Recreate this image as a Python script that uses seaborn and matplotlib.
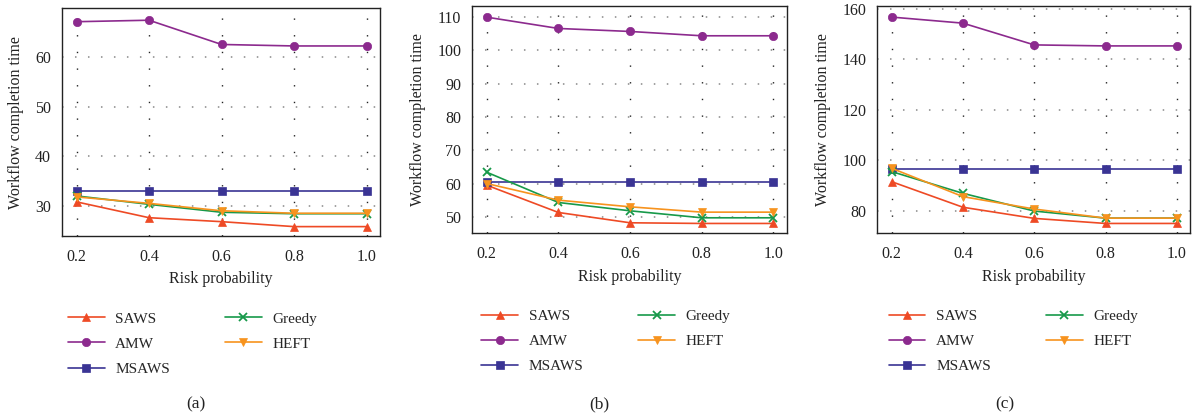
import matplotlib
matplotlib.use("Agg")
import matplotlib.pyplot as plt
import seaborn as sns

# Risk probabilities on the x axis
risk = [0.2, 0.4, 0.6, 0.8, 1.0]
algorithms = ["SAWS", "AMW", "MSAWS", "Greedy", "HEFT"]

# Workflow completion time, panel (a)
a_saws = [30.8, 27.6, 26.8, 25.8, 25.8]
a_amw = [67.2, 67.5, 62.6, 62.3, 62.3]
a_msaws = [33.0, 33.0, 33.0, 33.0, 33.0]
a_greedy = [32.0, 30.3, 28.7, 28.4, 28.4]
a_heft = [31.8, 30.5, 29.0, 28.5, 28.5]

# Workflow completion time, panel (b)
b_saws = [59.5, 51.3, 48.2, 48.0, 48.0]
b_amw = [110.0, 106.6, 105.7, 104.4, 104.4]
b_msaws = [60.4, 60.4, 60.4, 60.4, 60.4]
b_greedy = [63.4, 54.3, 51.8, 49.7, 49.7]
b_heft = [60.0, 55.0, 53.0, 51.4, 51.4]

# Workflow completion time, panel (c)
c_saws = [91.6, 81.5, 77.1, 75.1, 75.1]
c_amw = [156.7, 154.3, 145.7, 145.3, 145.3]
c_msaws = [96.6, 96.6, 96.6, 96.6, 96.6]
c_greedy = [95.6, 87.0, 80.0, 77.2, 77.2]
c_heft = [96.9, 85.7, 80.8, 77.2, 77.2]

yticks_a = [30, 40, 50, 60]
yticks_b = [50, 60, 70, 80, 90, 100, 110]
yticks_c = [80, 100, 120, 140, 160]
xticklabels = ["0.2", "0.4", "0.6", "0.8", "1.0"]
panel_labels = ["(a)", "(b)", "(c)"]

palette = {"SAWS": "#ee4a25", "AMW": "#8c2a8e", "MSAWS": "#3a3494",
           "Greedy": "#17994a", "HEFT": "#f7931e"}
markers = {"SAWS": "^", "AMW": "o", "MSAWS": "s", "Greedy": "x", "HEFT": "v"}

sns.set_theme(style="white")
plt.rcParams["font.family"] = ["Liberation Serif", "DejaVu Serif"]

panels = [
    dict(series=[a_saws, a_amw, a_msaws, a_greedy, a_heft], yticks=yticks_a,
         ylim=(23.9, 69.9), rect=[0.0516, 0.434, 0.2646, 0.546],
         leg=(0.045, 0.285), lab=(0.163, 0.012)),
    dict(series=[b_saws, b_amw, b_msaws, b_greedy, b_heft], yticks=yticks_b,
         ylim=(45.1, 113.4), rect=[0.393, 0.441, 0.2615, 0.545],
         leg=(0.389, 0.291), lab=(0.499, 0.012)),
    dict(series=[c_saws, c_amw, c_msaws, c_greedy, c_heft], yticks=yticks_c,
         ylim=(71.2, 160.9), rect=[0.730, 0.4405, 0.260, 0.544],
         leg=(0.728, 0.291), lab=(0.836, 0.012)),
]

fig = plt.figure(figsize=(12.02, 4.17), dpi=100)

for i, p in enumerate(panels):
    ax = fig.add_axes(p["rect"])
    for name, vals in zip(algorithms, p["series"]):
        sns.lineplot(x=risk, y=vals, color=palette[name],
                     marker=markers[name], markersize=6, linewidth=1.2,
                     markeredgewidth=1.3 if name == "Greedy" else 0.5,
                     markeredgecolor=palette[name], label=name, ax=ax)
    ax.set_xlim(0.16, 1.037)
    ax.set_ylim(*p["ylim"])
    ax.set_xticks(risk)
    ax.set_xticklabels(xticklabels)
    ax.set_yticks(p["yticks"])
    ax.tick_params(axis="x", length=0, labelsize=11.5, pad=9,
                   colors="#222222")
    ax.tick_params(axis="y", length=0, labelsize=11.5, pad=8,
                   colors="#222222")
    # dotted grid: vertical lines darker and sparser, horizontal lines grey
    ax.grid(True, axis="x", color="#222222", linestyle=(0, (1, 11)),
            linewidth=1.0)
    ax.grid(True, axis="y", color="#888888", linestyle=(0, (1, 7.5)),
            linewidth=1.1)
    ax.set_axisbelow(True)
    for s in ax.spines.values():
        s.set_color("#222222")
        s.set_linewidth(1.0)
    ax.set_xlabel("Risk probability", fontsize=11.5, color="#222222",
                  labelpad=5)
    ax.set_ylabel("Workflow completion time", fontsize=11.5,
                  color="#222222", labelpad=8)

    handles, labels = ax.get_legend_handles_labels()
    ax.legend(handles, labels, ncol=2, frameon=False, loc="upper left",
              bbox_to_anchor=p["leg"], bbox_transform=fig.transFigure,
              fontsize=11, handlelength=2.4, columnspacing=3.6,
              labelspacing=0.75, handletextpad=0.7)
    fig.text(p["lab"][0], p["lab"][1], panel_labels[i], fontsize=12.5,
             ha="center", va="bottom", color="#222222")

fig.savefig("out.png", dpi=100)
